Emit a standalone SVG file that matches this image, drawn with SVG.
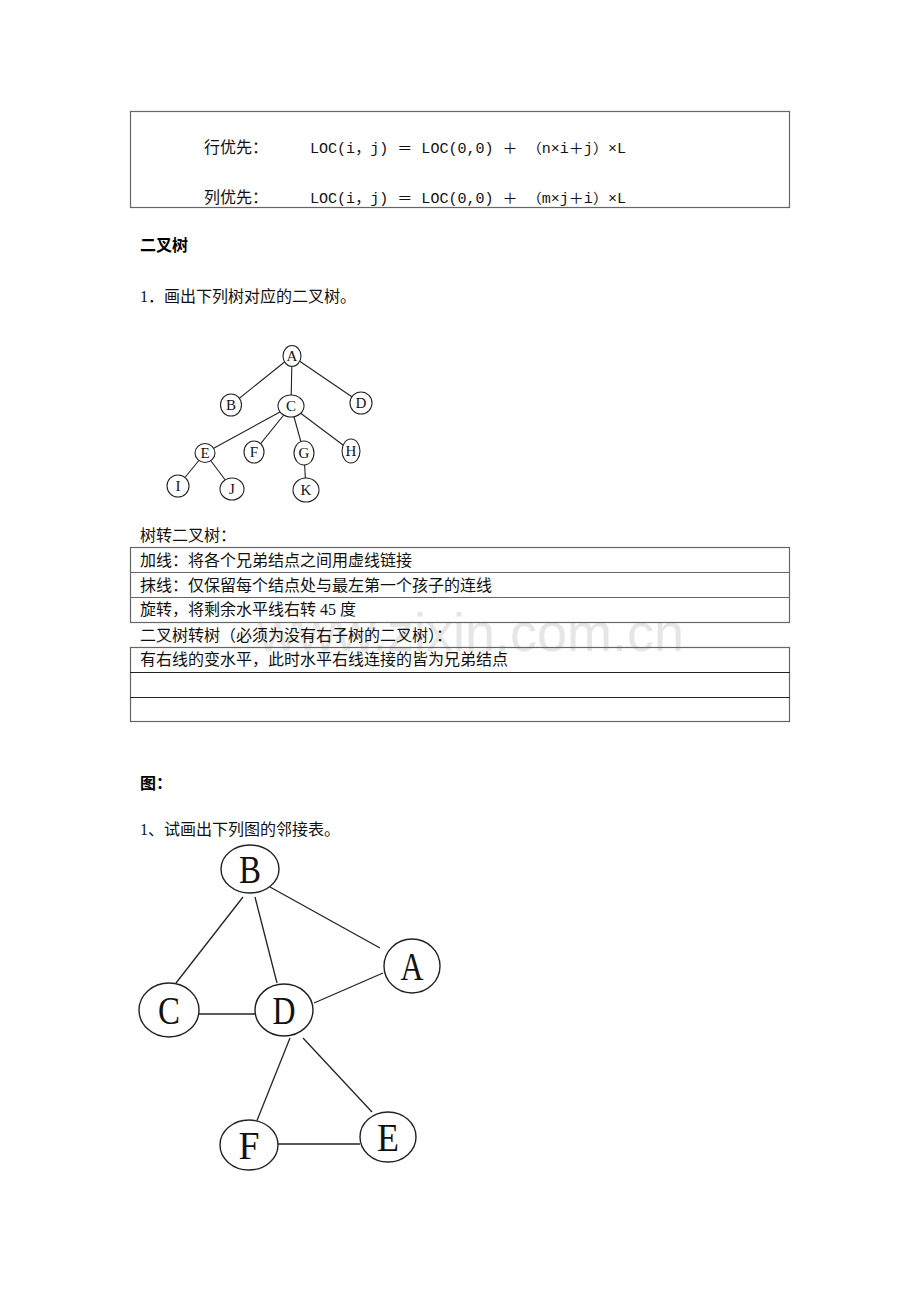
<svg xmlns="http://www.w3.org/2000/svg" width="920" height="1302" viewBox="0 0 920 1302">
<style>
.t{font-family:"Liberation Serif","Noto Sans CJK SC",serif;font-size:16px;fill:#111}
.b{font-family:"Noto Sans CJK SC",sans-serif;font-size:16px;font-weight:bold;fill:#000}
.f{font-family:"Liberation Mono","Noto Sans CJK SC",monospace;font-size:14px;fill:#111}
.box{fill:none;stroke:#666;stroke-width:1.2}
.tl{stroke:#666;stroke-width:1.2}
.tl2{stroke:#222;stroke-width:1.2}
.te{stroke:#222;stroke-width:1.1}
.tn{fill:#fff;stroke:#222;stroke-width:1.1}
.tlab{font-family:"Liberation Serif",serif;font-size:15px;fill:#111;text-anchor:middle}
.ge{stroke:#222;stroke-width:1.3}
.gn{fill:#fff;stroke:#222;stroke-width:1.4}
.glab{font-family:"Liberation Serif",serif;font-size:40px;fill:#111;text-anchor:middle}
</style>
<rect width="920" height="1302" fill="#fff"/>
<text x="258" y="651" font-family="Liberation Sans,Arial,sans-serif" font-size="54" fill="#e6e6e6">www.zixin.com.cn</text>

<g id="formula-box">
<rect class="box" x="130.5" y="111.5" width="659" height="96"/>
<text class="t" x="204" y="153">行优先：</text>
<text class="f" x="310" y="153" textLength="316" lengthAdjust="spacingAndGlyphs">LOC(i，j) ＝ LOC(0,0) ＋ （n×i＋j）×L</text>
<text class="t" x="204" y="203">列优先：</text>
<text class="f" x="310" y="203" textLength="316" lengthAdjust="spacingAndGlyphs">LOC(i，j) ＝ LOC(0,0) ＋ （m×j＋i）×L</text>
</g>

<text class="b" x="140" y="251">二叉树</text>
<text class="t" x="140" y="302">1．画出下列树对应的二叉树。</text>

<g id="tree-connectors">
<line class="te" x1="292" y1="356" x2="231" y2="405"/>
<line class="te" x1="292" y1="356" x2="291" y2="406"/>
<line class="te" x1="292" y1="356" x2="361" y2="403"/>
<line class="te" x1="291" y1="406" x2="205" y2="453"/>
<line class="te" x1="291" y1="406" x2="254" y2="452"/>
<line class="te" x1="291" y1="406" x2="304" y2="453"/>
<line class="te" x1="291" y1="406" x2="351" y2="451"/>
<line class="te" x1="205" y1="453" x2="178" y2="486"/>
<line class="te" x1="205" y1="453" x2="232" y2="489"/>
<line class="te" x1="304" y1="453" x2="306" y2="490"/>
</g>
<g id="tA"><ellipse class="tn" cx="292" cy="356" rx="9" ry="10.5"/><text class="tlab" x="292" y="361">A</text></g>
<g id="tB"><ellipse class="tn" cx="231" cy="405" rx="10.5" ry="11"/><text class="tlab" x="231" y="410">B</text></g>
<g id="tC"><ellipse class="tn" cx="291" cy="406" rx="13" ry="11"/><text class="tlab" x="291" y="411">C</text></g>
<g id="tD"><ellipse class="tn" cx="361" cy="403" rx="11" ry="11"/><text class="tlab" x="361" y="408">D</text></g>
<g id="tE"><ellipse class="tn" cx="205" cy="453" rx="10" ry="9.5"/><text class="tlab" x="205" y="458">E</text></g>
<g id="tF"><ellipse class="tn" cx="254" cy="452" rx="10" ry="11"/><text class="tlab" x="254" y="457">F</text></g>
<g id="tG"><ellipse class="tn" cx="304" cy="453" rx="10" ry="12"/><text class="tlab" x="304" y="458">G</text></g>
<g id="tH"><ellipse class="tn" cx="351" cy="451" rx="9" ry="12"/><text class="tlab" x="351" y="456">H</text></g>
<g id="tI"><ellipse class="tn" cx="178" cy="486" rx="11" ry="11"/><text class="tlab" x="178" y="491">I</text></g>
<g id="tJ"><ellipse class="tn" cx="232" cy="489" rx="12" ry="11"/><text class="tlab" x="232" y="494">J</text></g>
<g id="tK"><ellipse class="tn" cx="306" cy="490" rx="13" ry="12"/><text class="tlab" x="306" y="495">K</text></g>

<text class="t" x="140" y="541">树转二叉树：</text>
<g id="table1">
<rect class="box" x="130.5" y="547.5" width="659" height="75"/>
<line class="tl" x1="130" y1="572.5" x2="790" y2="572.5"/>
<line class="tl" x1="130" y1="597.5" x2="790" y2="597.5"/>
<text class="t" x="140" y="566">加线：将各个兄弟结点之间用虚线链接</text>
<text class="t" x="140" y="591">抹线：仅保留每个结点处与最左第一个孩子的连线</text>
<text class="t" x="140" y="615">旋转，将剩余水平线右转 45 度</text>
</g>

<text class="t" x="140" y="641">二叉树转树（必须为没有右子树的二叉树）：</text>
<g id="table2">
<rect class="box" x="130.5" y="647.5" width="659" height="74"/>
<line class="tl2" x1="130" y1="672.5" x2="790" y2="672.5"/>
<line class="tl2" x1="130" y1="697.5" x2="790" y2="697.5"/>
<text class="t" x="140" y="665">有右线的变水平，此时水平右线连接的皆为兄弟结点</text>
</g>

<text class="b" x="140" y="789">图：</text>
<text class="t" x="140" y="835">1、试画出下列图的邻接表。</text>

<g id="graph-connectors">
<line class="ge" x1="243" y1="897" x2="176" y2="983"/>
<line class="ge" x1="255" y1="897" x2="277" y2="983"/>
<line class="ge" x1="270" y1="887" x2="380" y2="948"/>
<line class="ge" x1="383" y1="973" x2="314" y2="1003"/>
<line class="ge" x1="198" y1="1014" x2="255" y2="1014"/>
<line class="ge" x1="290" y1="1038" x2="256" y2="1123"/>
<line class="ge" x1="303" y1="1038" x2="372" y2="1112"/>
<line class="ge" x1="278" y1="1144" x2="360" y2="1144"/>
</g>
<g id="gB"><ellipse class="gn" cx="250" cy="869" rx="29" ry="24"/><text class="glab" x="250" y="883" textLength="22" lengthAdjust="spacingAndGlyphs">B</text></g>
<g id="gA"><ellipse class="gn" cx="412" cy="966" rx="28" ry="27"/><text class="glab" x="412" y="980" textLength="23" lengthAdjust="spacingAndGlyphs">A</text></g>
<g id="gC"><ellipse class="gn" cx="169" cy="1010" rx="30" ry="27"/><text class="glab" x="169" y="1024" textLength="22" lengthAdjust="spacingAndGlyphs">C</text></g>
<g id="gD"><ellipse class="gn" cx="284" cy="1010" rx="29" ry="26"/><text class="glab" x="284" y="1024" textLength="23" lengthAdjust="spacingAndGlyphs">D</text></g>
<g id="gF"><ellipse class="gn" cx="249" cy="1145" rx="29" ry="25"/><text class="glab" x="249" y="1159" textLength="21" lengthAdjust="spacingAndGlyphs">F</text></g>
<g id="gE"><ellipse class="gn" cx="388" cy="1137" rx="28" ry="25"/><text class="glab" x="388" y="1151" textLength="22" lengthAdjust="spacingAndGlyphs">E</text></g>
</svg>
